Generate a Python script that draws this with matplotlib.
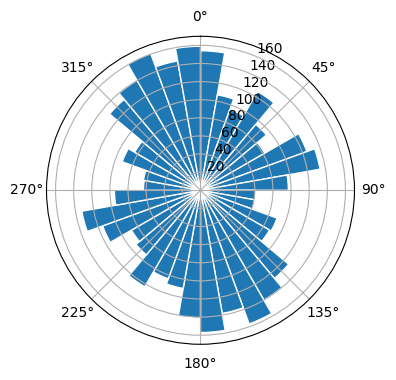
import numpy as np
import matplotlib
matplotlib.use("Agg")
import matplotlib.pyplot as plt

# bar start angles in degrees (clockwise from north), 10 deg wide
angles_deg = list(range(0, 360, 10))
values = [154, 107, 95, 126, 95, 82, 125, 134, 97,
          61, 61, 90, 88, 127, 140, 157, 138, 157,
          141, 110, 104, 123, 93, 88, 115, 133, 95,
          63, 64, 92, 84, 131, 140, 161, 145, 159]
bar_width_deg = 10

fig = plt.figure(figsize=(3.96, 3.80), dpi=100)
ax = fig.add_axes([0.1174, 0.094, 0.7778, 0.8105], projection="polar")
ax.set_theta_zero_location("N")
ax.set_theta_direction(-1)
theta = np.deg2rad(angles_deg)
ax.bar(theta, values, width=np.deg2rad(bar_width_deg), align="edge",
       color="#1f77b4", edgecolor="white", linewidth=1)
ax.set_yticks([20, 40, 60, 80, 100, 120, 140, 160])
ax.set_ylim(0, 170)
fig.savefig("out.png", dpi=100)
